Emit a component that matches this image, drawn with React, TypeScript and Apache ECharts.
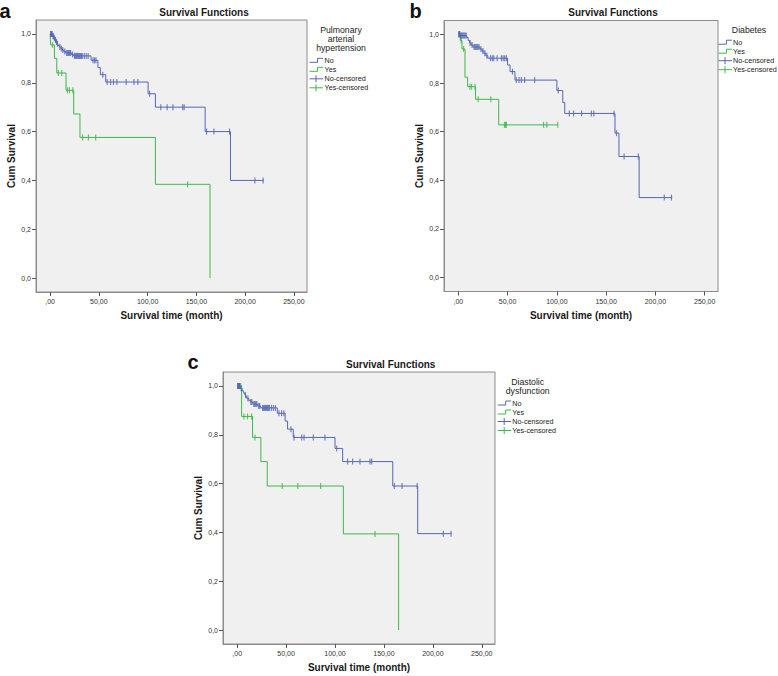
import React, { useEffect, useRef } from "react";
import * as echarts from "echarts";

const FONT = "'Liberation Sans', Arial, Helvetica, sans-serif";
const BLUE = "#5567b6";
const GREEN = "#3fb84b";
const PLOT_BG = "#eff0ef";
const FRAME = "#8c8c8c";

// ---------- texts & ticks ----------
const xTickValues = [0, 50, 100, 150, 200, 250];
const yTickValues = [0, 0.2, 0.4, 0.6, 0.8, 1.0];
const groupLabels = ["No", "Yes", "No-censored", "Yes-censored"];
const panelLetters = ["a", "b", "c"];
const legendTitles = [["Pulmonary", "arterial", "hypertension"], ["Diabetes"], ["Diastolic", "dysfunction"]];
const chartTitle = "Survival Functions";
const xAxisTitle = "Survival time (month)";
const yAxisTitle = "Cum Survival";

// ---------- panel a: pulmonary arterial hypertension ----------
const aNoCurve: number[][] = [
  [0, 1], [2.5, 0.99], [4, 0.982], [5, 0.975], [6, 0.967], [7, 0.96], [8, 0.953], [9.5, 0.946],
  [11, 0.94], [12.5, 0.934], [14, 0.928], [16, 0.922], [22, 0.916], [24, 0.91], [42, 0.892],
  [49, 0.862], [51.5, 0.833], [57, 0.803], [100.5, 0.755], [108, 0.7], [159, 0.6], [185, 0.4], [219, 0.4],
];
const aNoCensored = [
  0.5, 1, 1.5, 2, 3, 3.5, 4.5, 5.5, 6.5, 7.5, 10, 11.5, 13, 15, 17, 18, 19, 20, 21, 23, 25, 26, 27, 28,
  29, 30, 31, 32, 33, 35, 37, 39, 44, 45.5, 47, 54, 58.5, 62, 65, 68.5, 78, 86, 90, 102, 113.5, 120,
  126, 136, 137.5, 160.5, 168, 184, 210, 218.5,
];
const aYesCurve: number[][] = [
  [0, 1], [0.5, 0.955], [4.4, 0.9], [6.8, 0.84], [16.3, 0.769], [24.2, 0.672], [30.6, 0.576],
  [108, 0.384], [164, 0],
];
const aYesCensored = [2.4, 8.5, 11.9, 17.7, 19.7, 23.3, 33.3, 39.3, 46.7, 141];

// ---------- panel b: diabetes ----------
const bNoCurve: number[][] = [
  [0, 1], [2, 0.995], [8.5, 0.987], [10, 0.975], [11.5, 0.965], [13, 0.956], [15, 0.948], [22, 0.94],
  [24, 0.932], [26, 0.922], [28, 0.912], [30, 0.902], [50, 0.874], [52.5, 0.847], [57.5, 0.812],
  [100, 0.769], [106, 0.72], [108, 0.675], [159, 0.594], [163, 0.498], [183.5, 0.329], [217, 0.329],
];
const bNoCensored = [
  0.5, 1, 1.5, 2.5, 3, 4, 5, 6, 7, 8, 12, 14, 16, 17, 18, 19, 20, 21, 23, 25, 27, 29, 32.7, 34.5, 36,
  39.4, 43.8, 45.5, 47.1, 48.8, 55, 58.9, 61.6, 64, 67.3, 77.4, 101.5, 112.7, 117, 125.1, 135, 137.5,
  158, 160.5, 168.2, 182.7, 209, 216.3,
];
const bYesCurve: number[][] = [
  [0, 1], [2, 0.975], [3.7, 0.94], [6.8, 0.824], [9.5, 0.785], [17.5, 0.733], [41, 0.628], [101, 0.628],
];
const bYesCensored = [0.8, 3, 5.4, 11.8, 13.5, 17, 20.2, 33, 46.8, 47.8, 48.8, 86.5, 89.8, 100.9];

// ---------- panel c: diastolic dysfunction ----------
const cNoCurve: number[][] = [
  [0, 1], [3, 0.99], [5, 0.982], [6, 0.975], [7, 0.968], [8, 0.962], [9, 0.955], [10, 0.948], [12, 0.94],
  [13.5, 0.934], [16, 0.926], [21, 0.918], [24, 0.91], [41, 0.888], [49, 0.856], [51.5, 0.823],
  [57.3, 0.789], [100, 0.744], [107.8, 0.69], [159, 0.59], [184.5, 0.395], [219, 0.395],
];
const cNoCensored = [
  0.5, 1, 1.5, 2, 2.5, 4, 8.5, 11, 14, 15, 17, 18, 19, 20, 22, 23, 26, 27, 28, 29, 30, 31, 32, 33, 35,
  37, 39, 42.7, 45.4, 47.7, 54.9, 58.1, 65.9, 68.3, 77.8, 89.7, 101.7, 112.9, 118, 125.5, 135.7, 137.5,
  160.6, 168.5, 184, 210.7, 218.6,
];
const cYesCurve: number[][] = [
  [0, 1], [4.5, 0.875], [15.7, 0.789], [24.2, 0.69], [30.7, 0.59], [108.5, 0.394], [165, 0],
];
const cYesCensored = [0.5, 1.5, 2.5, 3.5, 6.9, 10.6, 14.7, 18.1, 46, 62, 85.3, 140.9];

const panelData = [
  { noCurve: aNoCurve, noCens: aNoCensored, yesCurve: aYesCurve, yesCens: aYesCensored },
  { noCurve: bNoCurve, noCens: bNoCensored, yesCurve: bYesCurve, yesCens: bYesCensored },
  { noCurve: cNoCurve, noCens: cNoCensored, yesCurve: cYesCurve, yesCens: cYesCensored },
];

// ---------- layout (pixels) ----------
const layouts = [
  {
    grid: { left: 36, top: 20, width: 271, height: 272 },
    letter: { x: -0.5, y: 11 },
    title: { x: 204, y: 12.4 },
    legend: { titleX: 341, titleY: [29.5, 38.5, 47.5], itemY: [60.8, 69.8, 78.8, 87.8], iconX: 309.5, textX: 324.5 },
  },
  {
    grid: { left: 444, top: 20.5, width: 274, height: 271 },
    letter: { x: 409.5, y: 11 },
    title: { x: 613, y: 12.4 },
    legend: { titleX: 749, titleY: [29.5], itemY: [42.7, 51.7, 60.7, 69.7], iconX: 718.5, textX: 733 },
  },
  {
    grid: { left: 223, top: 372, width: 272, height: 272 },
    letter: { x: 187.5, y: 362 },
    title: { x: 390.7, y: 364 },
    legend: { titleX: 527.7, titleY: [381.7, 390.7], itemY: [403.5, 412.5, 421.5, 430.5], iconX: 497.7, textX: 512.3 },
  },
];

function survivalAt(curve: number[][], t: number): number {
  let s = curve[0][1];
  for (const [x, y] of curve) {
    if (x <= t) s = y;
    else break;
  }
  return s;
}

function fmtX(v: number) {
  return v === 0 ? ",00" : v.toFixed(2).replace(".", ",");
}
function fmtY(v: number) {
  return v.toFixed(1).replace(".", ",");
}

function buildOption() {
  const grid: any[] = [];
  const xAxis: any[] = [];
  const yAxis: any[] = [];
  const series: any[] = [];
  const graphic: any[] = [];

  layouts.forEach((L, i) => {
    grid.push({
      ...L.grid,
      show: true,
      backgroundColor: PLOT_BG,
      borderColor: FRAME,
      borderWidth: 1,
      containLabel: false,
    });
    xAxis.push({
      type: "value",
      gridIndex: i,
      min: -14.5,
      max: 263.5,
      axisLine: { show: true, onZero: false, lineStyle: { color: FRAME, width: 1 } },
      axisTick: { show: true, length: 4, customValues: xTickValues, lineStyle: { color: "#555" } },
      axisLabel: {
        customValues: xTickValues,
        formatter: fmtX,
        fontSize: 7,
        color: "#333",
        margin: 6,
        fontFamily: FONT,
      },
      splitLine: { show: false },
      name: xAxisTitle,
      nameLocation: "middle",
      nameGap: 18.5,
      nameTextStyle: { fontSize: 10, fontWeight: "bold", color: "#1a1a1a", fontFamily: FONT },
    });
    yAxis.push({
      type: "value",
      gridIndex: i,
      min: -0.057,
      max: 1.057,
      axisLine: { show: true, onZero: false, lineStyle: { color: FRAME, width: 1 } },
      axisTick: { show: true, length: 4, customValues: yTickValues, lineStyle: { color: "#555" } },
      axisLabel: {
        customValues: yTickValues,
        formatter: fmtY,
        fontSize: 7,
        color: "#333",
        margin: 5,
        fontFamily: FONT,
      },
      splitLine: { show: false },
      name: yAxisTitle,
      nameLocation: "middle",
      nameGap: 20,
      nameTextStyle: { fontSize: 10, fontWeight: "bold", color: "#1a1a1a", fontFamily: FONT },
    });

    const d = panelData[i];
    series.push({
      type: "line",
      name: groupLabels[0],
      xAxisIndex: i,
      yAxisIndex: i,
      data: d.noCurve,
      step: "end",
      symbol: "none",
      lineStyle: { color: BLUE, width: 1 },
      itemStyle: { color: BLUE },
      z: 3,
    });
    series.push({
      type: "line",
      name: groupLabels[1],
      xAxisIndex: i,
      yAxisIndex: i,
      data: d.yesCurve,
      step: "end",
      symbol: "none",
      lineStyle: { color: GREEN, width: 1 },
      itemStyle: { color: GREEN },
      z: 2,
    });
    series.push({
      type: "scatter",
      name: groupLabels[2],
      xAxisIndex: i,
      yAxisIndex: i,
      data: d.noCens.map((t) => [t, survivalAt(d.noCurve, t)]),
      symbol: "rect",
      symbolSize: [1.2, 6],
      itemStyle: { color: BLUE },
      z: 4,
    });
    series.push({
      type: "scatter",
      name: groupLabels[3],
      xAxisIndex: i,
      yAxisIndex: i,
      data: d.yesCens.map((t) => [t, survivalAt(d.yesCurve, t)]),
      symbol: "rect",
      symbolSize: [1.2, 6],
      itemStyle: { color: GREEN },
      z: 3,
    });

    // panel letter
    graphic.push({
      type: "text",
      x: L.letter.x,
      y: L.letter.y,
      style: {
        text: panelLetters[i],
        fontSize: 20,
        fontWeight: "bold",
        fontFamily: FONT,
        fill: "#111",
        align: "left",
        verticalAlign: "middle",
      },
    });
    // chart title
    graphic.push({
      type: "text",
      x: L.title.x,
      y: L.title.y,
      style: {
        text: chartTitle,
        fontSize: 10,
        fontWeight: "bold",
        fontFamily: FONT,
        fill: "#1a1a1a",
        align: "center",
        verticalAlign: "middle",
      },
    });
    // legend title lines
    legendTitles[i].forEach((line, k) => {
      graphic.push({
        type: "text",
        x: L.legend.titleX,
        y: L.legend.titleY[k],
        style: {
          text: line,
          fontSize: 8.7,
          fontFamily: FONT,
          fill: "#222",
          align: "center",
          verticalAlign: "middle",
        },
      });
    });
    // legend items
    groupLabels.forEach((label, k) => {
      const y = L.legend.itemY[k];
      const x0 = L.legend.iconX;
      const color = k % 2 === 0 ? BLUE : GREEN;
      if (k < 2) {
        graphic.push({
          type: "polyline",
          shape: { points: [[x0, y + 1.5], [x0 + 8, y + 1.5], [x0 + 8, y - 2.5], [x0 + 13.5, y - 2.5]] },
          style: { stroke: color, fill: "none", lineWidth: 1 },
        });
      } else {
        graphic.push({
          type: "line",
          shape: { x1: x0, y1: y, x2: x0 + 13.5, y2: y },
          style: { stroke: color, lineWidth: 1 },
        });
        graphic.push({
          type: "line",
          shape: { x1: x0 + 6.5, y1: y - 3.5, x2: x0 + 6.5, y2: y + 3.5 },
          style: { stroke: color, lineWidth: 1 },
        });
      }
      graphic.push({
        type: "text",
        x: L.legend.textX,
        y,
        style: {
          text: label,
          fontSize: 7.2,
          fontFamily: FONT,
          fill: "#222",
          align: "left",
          verticalAlign: "middle",
        },
      });
    });
  });

  return {
    animation: false,
    backgroundColor: "#ffffff",
    textStyle: { fontFamily: FONT },
    grid,
    xAxis,
    yAxis,
    series,
    graphic,
  };
}

export default function App() {
  const ref = useRef<HTMLDivElement>(null);
  useEffect(() => {
    if (!ref.current) return;
    const chart = echarts.init(ref.current, null, { renderer: "svg", width: 778, height: 676 });
    chart.setOption(buildOption() as any);
    return () => chart.dispose();
  }, []);
  return (
    <div
      ref={ref}
      style={{ position: "fixed", left: 0, top: 0, width: 778, height: 676, background: "#fff" }}
    />
  );
}
